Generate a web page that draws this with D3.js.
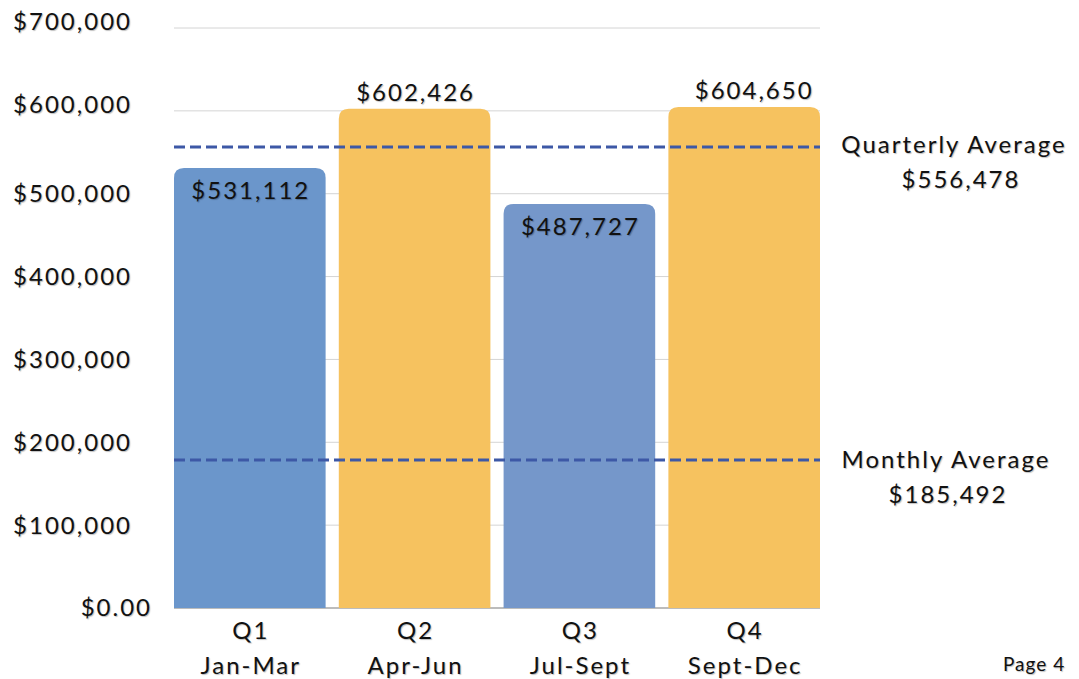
<!DOCTYPE html>
<html><head><meta charset="utf-8">
<script src="https://cdn.jsdelivr.net/npm/d3@7"></script>
<style>
body{margin:0;background:#fff;}
svg text{font-family:Lato,"Open Sans",sans-serif;fill:#111;letter-spacing:2px;text-shadow:1px 1px 1px rgba(0,0,0,0.25);}
</style></head><body>
<svg id="chart" width="1079" height="679"></svg>
<script>
const quarters = ["Q1","Q2","Q3","Q4"];
const months = ["Jan-Mar","Apr-Jun","Jul-Sept","Sept-Dec"];
const totals = [531112, 602426, 487727, 604650];
const barColors = ["#6b96cb","#f6c25f","#7597ca","#f6c25f"];
const yTicks = [0,100000,200000,300000,400000,500000,600000,700000];
const avgNames = ["Quarterly Average","Monthly Average"];
const avgLabels = ["$556,478","$185,492"];
const avgLineAt = [556478, 178600];

(function(){
const svg = d3.select("#chart");
const mL = 174, mR = 820, mT = 28, mB = 608;
const x = d3.scaleBand().domain(quarters).range([mL, mR]).paddingInner(0.08).paddingOuter(0);
const y = d3.scaleLinear().domain([0,700000]).range([mB, mT]);
const fmt = d3.format("$,");

svg.append("g").selectAll("line").data(yTicks.filter(d=>d>0)).join("line")
  .attr("x1", mL).attr("x2", mR)
  .attr("y1", d=>y(d)).attr("y2", d=>y(d))
  .attr("stroke", "#d4d4d4").attr("stroke-width", 1);
svg.append("line").attr("x1", mL).attr("x2", mR).attr("y1", mB).attr("y2", mB)
  .attr("stroke", "#a6a6a6").attr("stroke-width", 1.5);

svg.append("g").selectAll("text").data(yTicks).join("text")
  .attr("x", d => d === 0 ? 152 : 132)
  .attr("y", d => y(d) - (d >= 600000 ? 6 : 0))
  .attr("dy", "0.35em").attr("text-anchor", "end")
  .attr("font-size", 24)
  .text(d => d === 0 ? "$0.00" : fmt(d));

const r = 10;
svg.append("g").selectAll("path").data(quarters).join("path")
  .attr("fill", (d,i) => barColors[i])
  .attr("d", (d,i) => {
    const x0 = x(d), w = x.bandwidth(), y0 = y(totals[i]), y1 = y(0);
    return `M${x0},${y1}V${y0+r}Q${x0},${y0} ${x0+r},${y0}H${x0+w-r}Q${x0+w},${y0} ${x0+w},${y0+r}V${y1}Z`;
  });

svg.append("g").selectAll("text").data(quarters).join("text")
  .attr("x", (d,i) => x(d) + x.bandwidth()/2 + 1 + (i===3 ? 9 : 0))
  .attr("y", (d,i) => (i%2===0) ? y(totals[i]) + 23 : y(totals[i]) - 16)
  .attr("dy", "0.35em").attr("text-anchor", "middle").attr("font-size", 24)
  .text((d,i) => fmt(totals[i]));

svg.append("g").selectAll("line").data(avgLineAt).join("line")
  .attr("x1", mL).attr("x2", mR)
  .attr("y1", d=>y(d)).attr("y2", d=>y(d))
  .attr("stroke", "#3d58a6").attr("stroke-width", 3).attr("stroke-dasharray", "11,5");

const ag = svg.append("g").selectAll("g").data(avgLineAt).join("g");
ag.append("text").attr("x", (d,i)=> i===0 ? 954 : 946).attr("y", (d,i)=>y(d) - (i===0 ? 2 : 0)).attr("dy","0.35em")
  .attr("text-anchor","middle").attr("font-size",24).text((d,i)=>avgNames[i]);
ag.append("text").attr("x", (d,i)=> i===0 ? 961 : 948).attr("y", (d,i)=>y(d)+34 - (i===0 ? 1 : -1)).attr("dy","0.35em")
  .attr("text-anchor","middle").attr("font-size",24).text((d,i)=>avgLabels[i]);

const xg = svg.append("g").selectAll("g").data(quarters).join("g");
xg.append("text").attr("x", d=>x(d)+x.bandwidth()/2+1).attr("y", 631).attr("dy","0.35em")
  .attr("text-anchor","middle").attr("font-size",24).text(d=>d);
xg.append("text").attr("x", d=>x(d)+x.bandwidth()/2+1).attr("y", 666).attr("dy","0.35em")
  .attr("text-anchor","middle").attr("font-size",24).text((d,i)=>months[i]);

svg.append("text").attr("x", 1003).attr("y", 671).attr("font-size", 19).style("letter-spacing","1px").text("Page 4");
})();
</script></body></html>
